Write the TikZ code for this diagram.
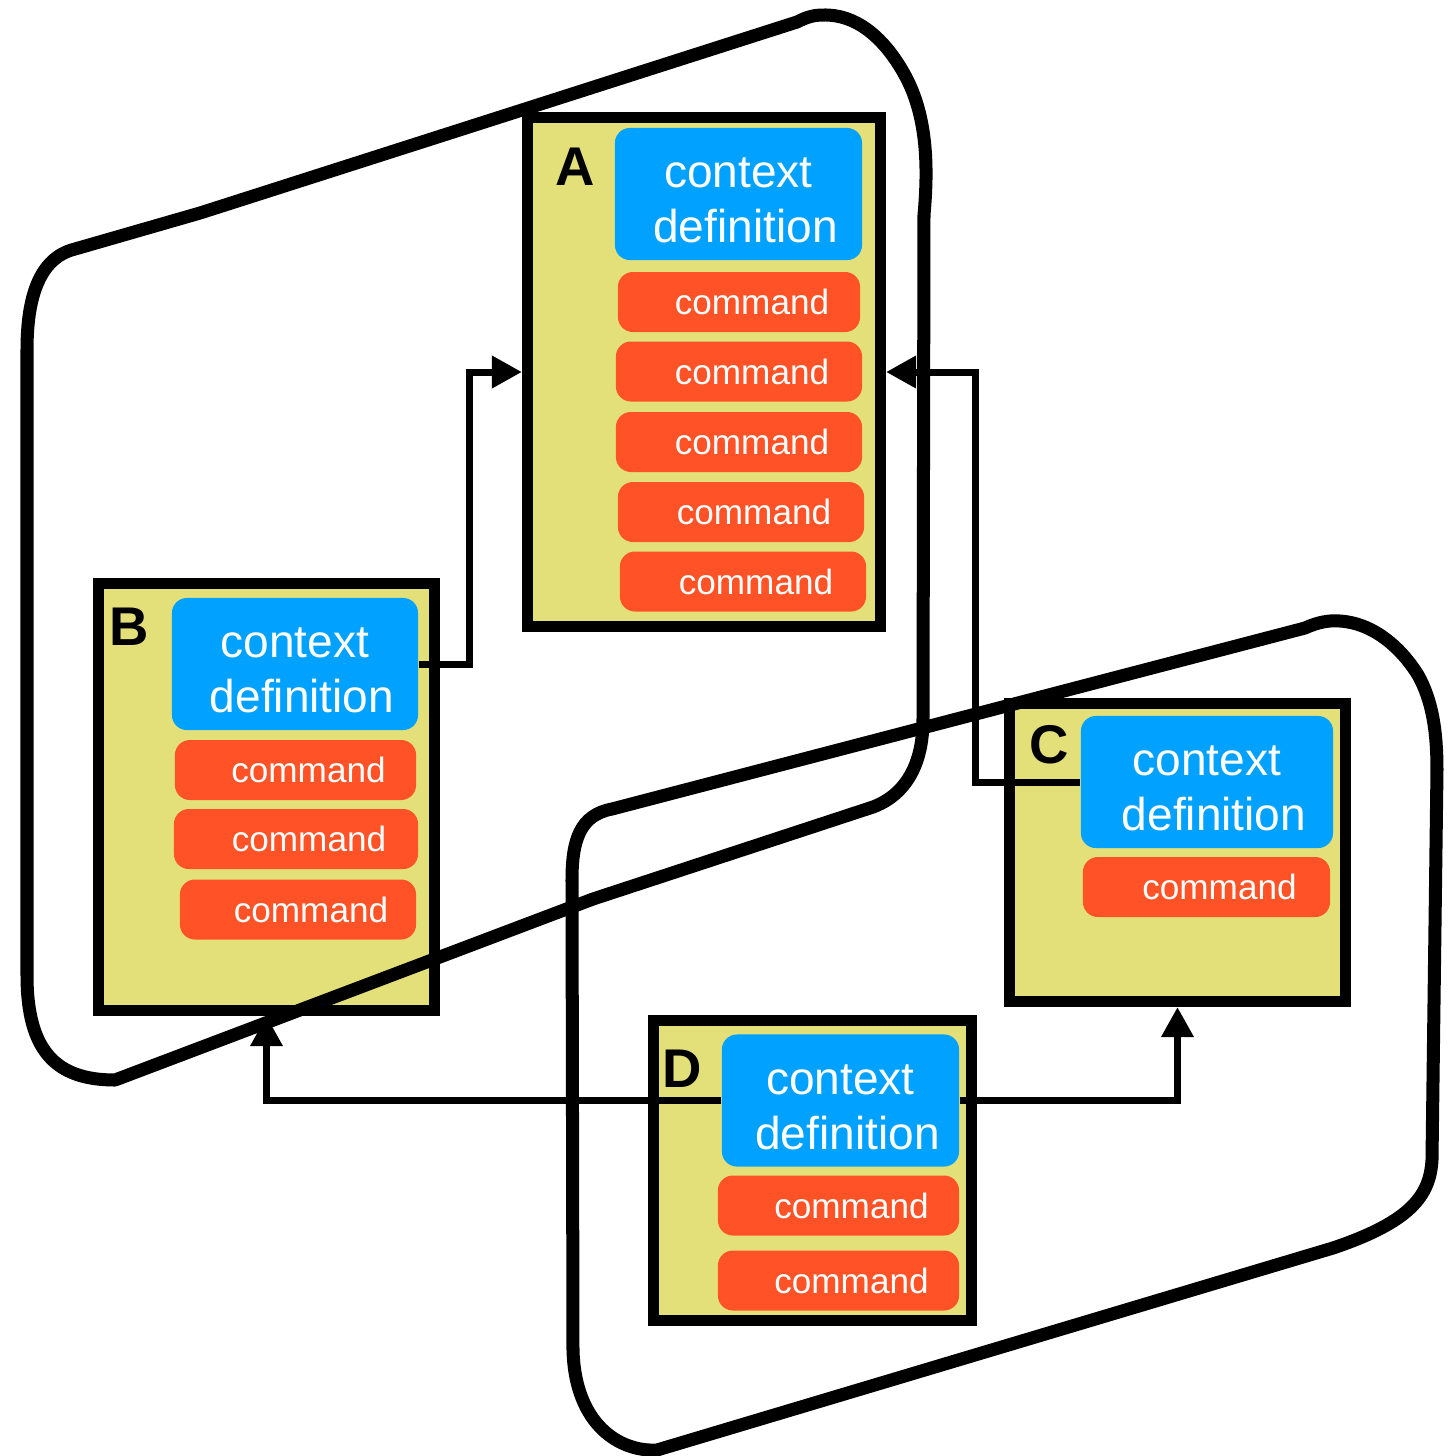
\documentclass[tikz,border=0pt]{standalone}
\usepackage{fontspec}
\setmainfont{Liberation Sans}
\usetikzlibrary{arrows.meta}
\definecolor{panelyellow}{RGB}{227,224,122}
\definecolor{ctxblue}{RGB}{0,161,255}
\definecolor{cmdred}{RGB}{255,82,38}
\begin{document}
\begin{tikzpicture}[x=0.01cm,y=-0.01cm,
  panel/.style={draw=black, fill=panelyellow, line width=0.11cm, inner sep=0pt},
  ctx/.style={fill=ctxblue, rounded corners=0.15cm, text=white, align=center,
    inner sep=0pt, minimum height=1.32cm, font=\fontsize{13.1pt}{15.6pt}\selectfont},
  cmd/.style={fill=cmdred, rounded corners=0.15cm, text=white, inner sep=0pt,
    minimum height=0.6cm, font=\fontsize{10pt}{12pt}\selectfont},
  tag/.style={anchor=base west, inner sep=0pt, font=\fontsize{15.5pt}{18pt}\selectfont\bfseries},
  link/.style={line width=0.07cm, -{Triangle[length=0.3cm,width=0.31cm]}},
  ring/.style={line width=0.13cm, line join=round, line cap=round}]
\useasboundingbox (0,0) rectangle (1455,1456);

\newcommand{\ctxtext}{\rule{0pt}{0.43cm}context\\\hspace*{0.14cm}definition}
\newcommand{\cmdtext}{\hspace*{0.26cm}command}

% context A
\node[panel, minimum width=3.53cm, minimum height=5.09cm] (A) at (704,372) {};
\node[tag] (tA) at (555,185) {A};
\node[ctx, minimum width=2.47cm] (bA) at (738.5,194) {\ctxtext};
\node[cmd, minimum width=2.42cm] (a1) at (739,302) {\cmdtext};
\node[cmd, minimum width=2.46cm] (a2) at (739,371.5) {\cmdtext};
\node[cmd, minimum width=2.46cm] (a3) at (739,442) {\cmdtext};
\node[cmd, minimum width=2.46cm] (a4) at (741,512) {\cmdtext};
\node[cmd, minimum width=2.46cm] (a5) at (743,581.5) {\cmdtext};

% context B
\node[panel, minimum width=3.36cm, minimum height=4.27cm] (B) at (266.5,797) {};
\node[tag] (tB) at (109,645) {B};
\node[ctx, minimum width=2.46cm] (bB) at (295,664) {\ctxtext};
\node[cmd, minimum width=2.41cm] (b1) at (295.5,770) {\cmdtext};
\node[cmd, minimum width=2.44cm] (b2) at (296,839) {\cmdtext};
\node[cmd, minimum width=2.36cm] (b3) at (298,909.5) {\cmdtext};

% context C
\node[panel, minimum width=3.36cm, minimum height=2.98cm] (C) at (1177.5,852.5) {};
\node[tag] (tC) at (1029,763) {C};
\node[ctx, minimum width=2.52cm] (bC) at (1207,782) {\ctxtext};
\node[cmd, minimum width=2.47cm] (c1) at (1206.5,887) {\cmdtext};

% context D
\node[panel, minimum width=3.18cm, minimum height=3.00cm] (D) at (812.5,1170.5) {};
\node[tag] (tD) at (662,1087) {D};
\node[ctx, minimum width=2.37cm] (bD) at (840.5,1100.5) {\ctxtext};
\node[cmd, minimum width=2.41cm] (d1) at (838.5,1205.5) {\cmdtext};
\node[cmd, minimum width=2.41cm] (d2) at (838.5,1280.5) {\cmdtext};

% inheritance links
\draw[link] (bB.east) -- ++(51,0) |- (A.west);
\draw[link] (bC.west) -- ++(-105,0) |- (A.east);
\draw[link] (bD.west) -| (B.south);
\draw[link] (bD.east) -| (C.south);

% hand-drawn groupings
\draw[ring] (797,22) -- (200,213) -- (75,249)
  .. controls (38,258) and (27,300) .. (27,350) -- (27,975)
  .. controls (27,1050) and (55,1080) .. (115,1080)
  -- (593,899) -- (873,807)
  .. controls (905,795) and (923,765) .. (923,720) -- (924,215)
  .. controls (929,160) and (926,110) .. (902,70)
  .. controls (882,36) and (855,14) .. (823,15)
  .. controls (812,15) and (805,18) .. (797,22) -- cycle;

\draw[ring] (612,809) -- (1305,628)
  .. controls (1318,622) and (1330,620) .. (1340,621)
  .. controls (1372,623) and (1400,646) .. (1418,675)
  .. controls (1432,700) and (1437,730) .. (1437,770) -- (1432,1160)
  .. controls (1430,1196) and (1410,1222) .. (1333,1248)
  -- (657,1450)
  .. controls (620,1452) and (575,1425) .. (573,1350) -- (572,880)
  .. controls (572,840) and (580,815) .. (612,809) -- cycle;
\end{tikzpicture}
\end{document}
